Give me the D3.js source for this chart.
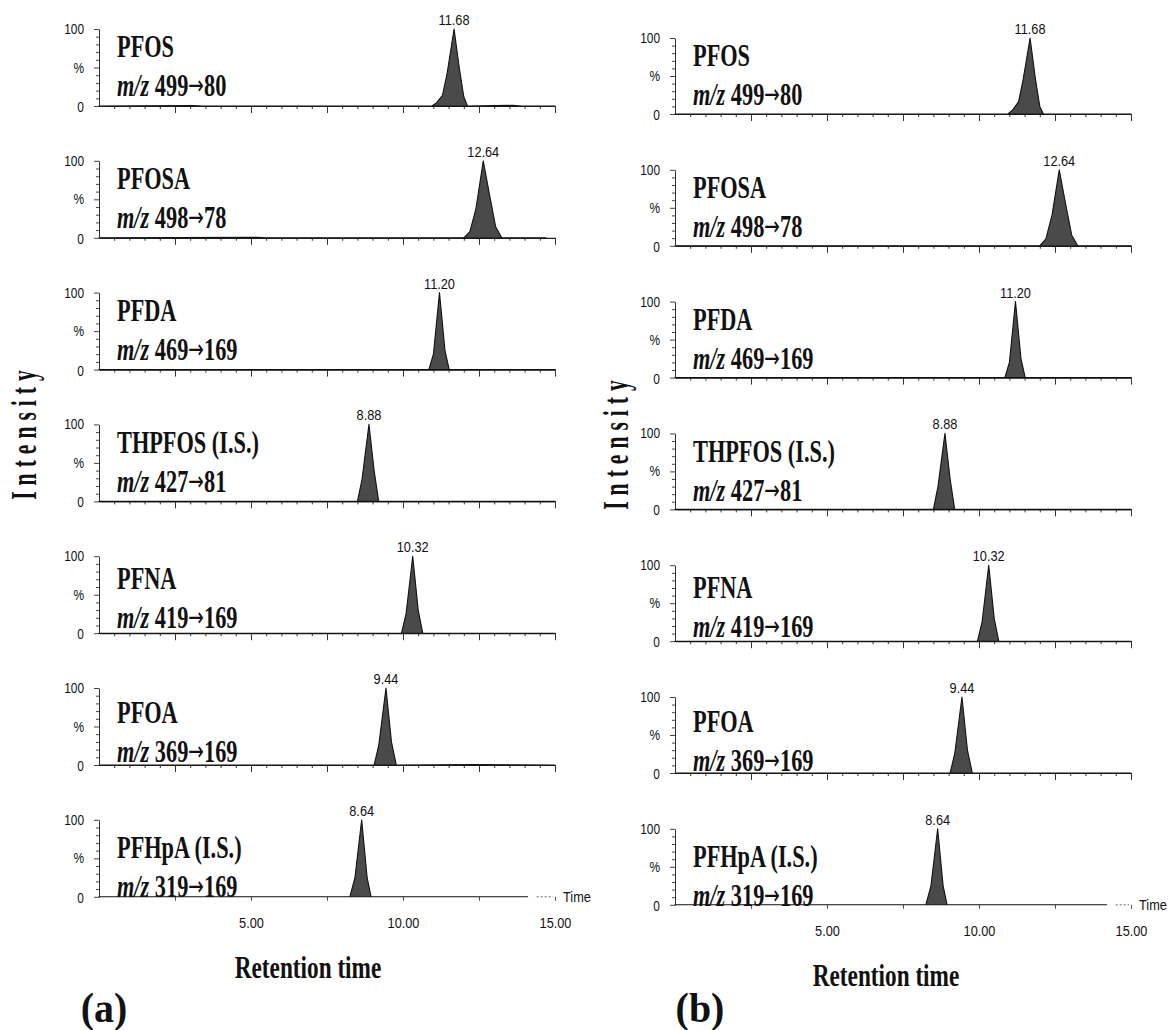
<!DOCTYPE html>
<meta charset="utf-8">
<style>
    body { margin: 0; background: #fff; }
    svg { display: block; }
</style>
<body>
<script src="https://d3js.org/d3.v7.min.js"></script>
<script>

// compounds, MRM transitions and peak retention times (min)
var compounds = ['PFOS', 'PFOSA', 'PFDA', 'THPFOS (I.S.)', 'PFNA', 'PFOA', 'PFHpA (I.S.)'];
var precursors = ['499', '498', '469', '427', '419', '369', '319'];
var products = ['80', '78', '169', '81', '169', '169', '169'];
var peakTimes = [11.68, 12.64, 11.20, 8.88, 10.32, 9.44, 8.64];

// chromatogram traces: [time, % intensity]
var tracesA = [
    [[0, 0], [3.1, 0.6], [3.4, 0], [10.95, 0], [11.1, 4], [11.3, 14], [11.45, 42], [11.68, 100], [11.85, 50], [12.0, 12], [12.12, 0], [13.6, 0.8], [13.9, 0], [15, 0]],
    [[0, 0], [5.2, 0.5], [5.5, 0], [12.0, 0], [12.2, 8], [12.4, 38], [12.64, 100], [12.85, 55], [13.05, 14], [13.25, 0], [14.7, 0]],
    [[0, 0], [10.85, 0], [11.0, 20], [11.2, 100], [11.38, 25], [11.52, 0], [15, 0]],
    [[0, 0], [8.5, 0], [8.65, 28], [8.88, 100], [9.05, 40], [9.2, 0], [15, 0]],
    [[0, 0], [9.95, 0], [10.1, 25], [10.32, 100], [10.5, 30], [10.65, 0], [15, 0]],
    [[0, 0], [9.05, 0], [9.2, 25], [9.44, 100], [9.62, 30], [9.78, 0], [12.5, 0.5], [15, 0]],
    [[0, 0], [8.25, 0], [8.42, 25], [8.64, 100], [8.82, 25], [8.95, 0], [14.1, 0]]
];
var tracesB = [
    [[0, 0], [10.95, 0], [11.1, 5], [11.3, 16], [11.45, 45], [11.68, 100], [11.85, 48], [12.0, 10], [12.12, 0], [15, 0]],
    [[0, 0], [12.0, 0], [12.2, 9], [12.4, 40], [12.64, 100], [12.85, 55], [13.05, 14], [13.25, 0], [15, 0]],
    [[0, 0], [10.85, 0], [11.0, 20], [11.2, 100], [11.38, 25], [11.52, 0], [15, 0]],
    [[0, 0], [8.5, 0], [8.65, 30], [8.88, 100], [9.05, 40], [9.2, 0], [15, 0]],
    [[0, 0], [9.95, 0], [10.1, 25], [10.32, 100], [10.5, 30], [10.65, 0], [15, 0]],
    [[0, 0], [9.05, 0], [9.2, 25], [9.44, 100], [9.62, 30], [9.78, 0], [15, 0]],
    [[0, 0], [8.25, 0], [8.42, 25], [8.64, 100], [8.82, 25], [8.95, 0], [14.2, 0]]
];

var timeTicks = [5, 10, 15];
var timeDomain = [0, 15];
var panelLetters = ['(a)', '(b)'];

// layout of the two panels
var panels = [
    {x0: 99, x1: 555, base0: 106, step: 131.8, h: 77, traces: tracesA, letterX: 104, titleX: 308, titleY: 978, intX: 36, intY: 432},
    {x0: 675, x1: 1131, base0: 114, step: 131.8, h: 76, traces: tracesB, letterX: 700, titleX: 886, titleY: 986, intX: 628, intY: 442}
];
var labelShift = [0, 0, 0, 1, 5, 7, 10];

var serif = '"Liberation Serif", "Times New Roman", serif';
var sans = '"Liberation Sans", Arial, sans-serif';

var svg = d3.select('body').append('svg')
    .attr('width', 1174)
    .attr('height', 1030);

// condensed text helper (the scan uses narrow type)
function addText(g, x, y, str, size, family, weight, anchor, sx) {
    return g.append('text')
        .attr('transform', 'translate(' + x + ',' + y + ') scale(' + sx + ',1)')
        .attr('text-anchor', anchor)
        .style('font-family', family)
        .style('font-weight', weight)
        .style('font-size', size + 'px')
        .style('fill', '#111')
        .text(str);
}

panels.forEach(function(p, pi) {
    var x = d3.scaleLinear().domain(timeDomain).range([p.x0, p.x1]);
    var panel = svg.append('g').attr('class', 'panel');

    compounds.forEach(function(name, i) {
        var base = p.base0 + i * p.step;
        var top = base - p.h;
        var y = d3.scaleLinear().domain([0, 100]).range([base, top]);
        var last = i === compounds.length - 1;
        var g = panel.append('g');

        // y axis: minor ticks every 10 %, longer at 0/50/100
        var yAxis = d3.axisLeft(y)
            .tickValues(d3.range(0, 101, 10))
            .tickSize(3)
            .tickSizeOuter(0)
            .tickFormat('');
        var ya = g.append('g')
            .attr('transform', 'translate(' + p.x0 + ',0)')
            .call(yAxis);
        ya.selectAll('line').attr('stroke', '#444');
        ya.select('.domain').attr('stroke', '#333');
        ya.selectAll('.tick').filter(function(d) { return d % 50 === 0; })
            .select('line').attr('x2', -5);

        addText(g, p.x0 - 15, y(100) + 5, '100', 14, sans, 'normal', 'end', 0.85);
        addText(g, p.x0 - 15, y(50) + 5, '%', 14, sans, 'normal', 'end', 0.85);
        addText(g, p.x0 - 15, y(0) + 6, '0', 14, sans, 'normal', 'end', 0.85);

        // x axis
        if (!last) {
            var xMinor = d3.axisBottom(x)
                .tickValues(d3.range(0.5, 15.01, 0.5))
                .tickSize(3)
                .tickSizeOuter(0)
                .tickFormat('');
            var xa = g.append('g')
                .attr('transform', 'translate(0,' + base + ')')
                .call(xMinor);
            xa.select('.domain').attr('stroke', '#222').attr('stroke-width', 1.2);
            xa.selectAll('line').attr('stroke', '#333');
            xa.selectAll('.tick').filter(function(d) { return Math.abs(d / 2.5 - Math.round(d / 2.5)) < 1e-6; })
                .select('line').attr('y2', 7);
        } else {
            var xMajor = d3.axisBottom(x)
                .tickValues(d3.range(2.5, 15.01, 2.5))
                .tickSize(4)
                .tickSizeOuter(0)
                .tickFormat('');
            var xb = g.append('g')
                .attr('transform', 'translate(0,' + base + ')')
                .call(xMajor);
            xb.select('.domain').remove();
            xb.selectAll('line').attr('stroke', '#555');

            var xLab = d3.axisBottom(x)
                .tickValues(timeTicks)
                .tickSize(0)
                .tickFormat(d3.format('.2f'));
            var xl = g.append('g')
                .attr('transform', 'translate(0,' + base + ')')
                .call(xLab);
            xl.select('.domain').remove();
            xl.selectAll('text')
                .attr('y', 0)
                .attr('dy', 0)
                .attr('transform', 'translate(0,31) scale(0.85,1)')
                .style('font-family', sans)
                .style('font-size', '15px')
                .style('fill', '#111');

            // dotted run-out of the time axis and its label
            var tr = p.traces[i];
            g.append('line')
                .attr('x1', x(tr[tr.length - 1][0]) + 9)
                .attr('x2', x(15) - 2)
                .attr('y1', base).attr('y2', base)
                .attr('stroke', '#666')
                .attr('stroke-dasharray', '2,2');
            addText(g, x(15) + 8, base + 5, 'Time', 15, sans, 'normal', 'start', 0.85);
        }

        // chromatogram trace
        var area = d3.area()
            .x(function(d) { return x(d[0]); })
            .y0(base)
            .y1(function(d) { return y(d[1]); });
        g.append('path')
            .datum(p.traces[i])
            .attr('d', area)
            .attr('fill', '#4a4a4a')
            .attr('stroke', '#111')
            .attr('stroke-width', 1.1)
            .attr('stroke-linejoin', 'round');

        // retention time above the peak
        addText(g, x(peakTimes[i]), y(100) - 4, peakTimes[i].toFixed(2), 15, sans, 'normal', 'middle', 0.85);

        // compound name and transition
        var lx = p.x0 + 18;
        var dy = labelShift[i];
        addText(g, lx, top + 28 + dy, name, 31, serif, 'bold', 'start', 0.72);
        var t2 = g.append('text')
            .attr('transform', 'translate(' + lx + ',' + (top + 67 + dy) + ') scale(0.72,1)')
            .style('font-family', serif)
            .style('font-weight', 'bold')
            .style('font-size', '31px')
            .style('fill', '#111');
        t2.append('tspan').style('font-style', 'italic').text('m/z');
        t2.append('tspan').text(' ' + precursors[i]);
        t2.append('tspan')
            .style('font-family', '"DejaVu Sans", sans-serif')
            .style('font-weight', 'normal')
            .style('font-size', '26px')
            .attr('dy', -2)
            .text('\u2192');
        t2.append('tspan').attr('dy', 2).text(products[i]);
    });

    // axis titles and panel letter
    addText(panel, p.titleX, p.titleY, 'Retention time', 31, serif, 'bold', 'middle', 0.75);
    addText(panel, p.letterX, 1022, panelLetters[pi], 42, serif, 'bold', 'middle', 0.95);

    panel.append('text')
        .attr('transform', 'translate(' + p.intX + ',' + p.intY + ') rotate(-90) scale(0.6,1)')
        .attr('text-anchor', 'middle')
        .style('font-family', serif)
        .style('font-weight', 'bold')
        .style('font-size', '36px')
        .style('letter-spacing', '10px')
        .style('fill', '#111')
        .text('Intensity');
});

</script>
</body>
